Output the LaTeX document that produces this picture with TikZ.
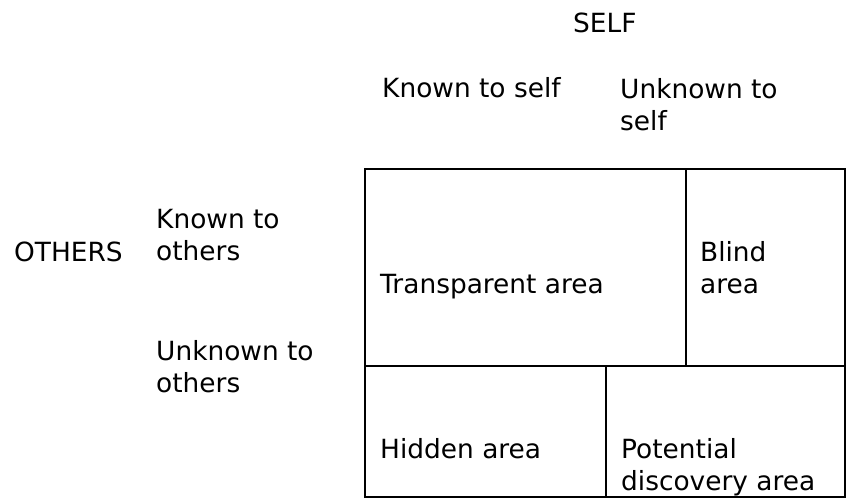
\documentclass[tikz,border=0pt]{standalone}
\usepackage{fontspec}
\setmainfont{DejaVu Sans}
\usetikzlibrary{positioning, calc}

\tikzset{
  lbl/.style={anchor=base west, inner sep=0pt, align=left,
              font=\fontsize{26.4}{32}\selectfont},
  gridline/.style={line width=2pt}
}

\begin{document}
\begin{tikzpicture}[x=1pt, y=-1pt]
\useasboundingbox (0,0) rectangle (849,500);

% corners of the window
\coordinate (tl) at (365,169);  \coordinate (tr) at (845,169);
\coordinate (ml) at (365,366);  \coordinate (mr) at (845,366);
\coordinate (bl) at (365,497);  \coordinate (br) at (845,497);
\coordinate (tv) at (686,169);  \coordinate (mv) at (686,366);
\coordinate (hv) at (606,366);  \coordinate (bv) at (606,497);

\draw[gridline] (tl) -- (tr) -- (br) -- (bl) -- cycle;
\draw[gridline] (ml) -- (mr);
\draw[gridline] (tv) -- (mv);
\draw[gridline] (hv) -- (bv);

% headings (base = last line)
\node[lbl] (self)    at (573,33)  {SELF};
\node[lbl] (kself)   at (382,98)  {Known to self};
\node[lbl] (uself)   at (620,131) {Unknown to\\self};
\node[lbl] (others)  at (14,261)  {OTHERS};
\node[lbl] (kothers) at (156,260) {Known to\\others};
\node[lbl] (uothers) at (156,392) {Unknown to\\others};

% the four areas
\node[lbl] (transp)  at (380,293) {Transparent area};
\node[lbl] (blind)   at (700,293) {Blind\\area};
\node[lbl] (hidden)  at (380,458) {Hidden area};
\node[lbl] (potent)  at (621,490) {Potential\\discovery area};
\end{tikzpicture}
\end{document}
